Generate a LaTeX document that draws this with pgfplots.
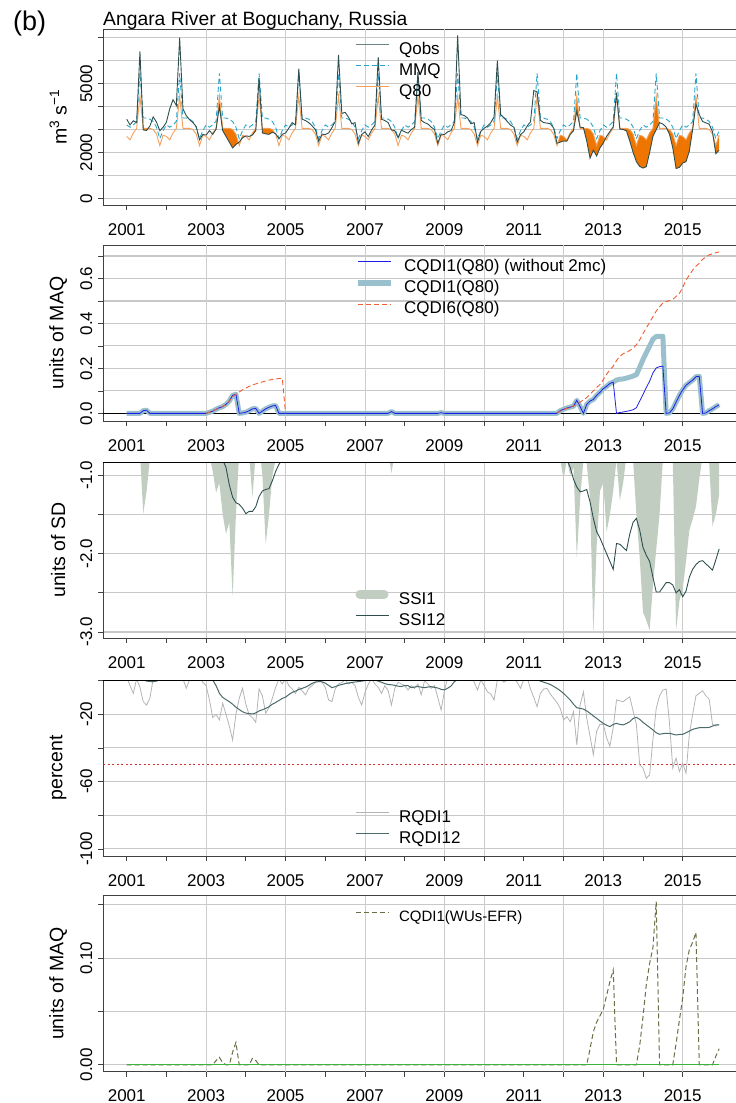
\documentclass[border=0pt]{standalone}
\usepackage{fontspec}
\setmainfont{Liberation Sans}
\usepackage{pgfplots}
\pgfplotsset{compat=1.18}
\usepackage{pgfplotstable}
\usetikzlibrary{intersections}

\definecolor{qobscol}{RGB}{47,79,79}
\definecolor{mmqcol}{RGB}{40,165,205}
\definecolor{q80col}{RGB}{245,160,90}
\definecolor{deficit}{RGB}{238,118,0}
\definecolor{cqdithin}{RGB}{30,30,235}
\definecolor{cqdithick}{RGB}{154,192,205}
\definecolor{cqdisix}{RGB}{240,95,50}
\definecolor{ssione}{RGB}{193,205,193}
\definecolor{ssitwelve}{RGB}{47,79,79}
\definecolor{rqdione}{RGB}{180,180,180}
\definecolor{rqditwelve}{RGB}{75,105,105}
\definecolor{thresh}{RGB}{205,50,50}
\definecolor{wuscol}{RGB}{110,110,70}
\definecolor{zerogreen}{RGB}{60,180,60}
\definecolor{gridcol}{RGB}{200,200,200}

\newcommand{\lab}{\fontsize{17}{20}\selectfont}
\newcommand{\biglab}{\fontsize{19.5}{22}\selectfont}
\newcommand{\smalllab}{\fontsize{15}{18}\selectfont}

% fill the region of path #2 that lies inside path #1 (both named paths)
\makeatletter
\newcommand{\clipfillnamed}[3]{%
  \begin{pgfscope}%
    \expandafter\let\expandafter\my@clippath\csname tikz@intersect@path@name@#1\endcsname
    \pgfsyssoftpath@setcurrentpath\my@clippath
    \pgfusepath{clip}%
    \expandafter\let\expandafter\my@fillpath\csname tikz@intersect@path@name@#2\endcsname
    \pgfsyssoftpath@setcurrentpath\my@fillpath
    \pgfsetfillcolor{#3}%
    \pgfusepath{fill}%
  \end{pgfscope}}
\makeatother

% monthly discharge: observed, mean monthly (MMQ) and Q80 climatology
\pgfplotstableread{
yr mo qobs mmq q80
2001 1 3450 3200 2700
2001 2 3200 3100 2550
2001 3 3380 3200 2850
2001 4 3300 3350 3050
2001 5 6400 5450 4450
2001 6 2980 3500 3050
2001 7 2960 3500 3050
2001 8 3150 3450 3050
2001 9 3550 3350 3000
2001 10 3320 3100 2800
2001 11 2950 2600 2300
2001 12 3100 2950 2750
2002 1 3320 3200 2700
2002 2 3900 3100 2550
2002 3 4300 3200 2850
2002 4 4050 3350 3050
2002 5 7000 5450 4450
2002 6 3900 3500 3050
2002 7 3600 3500 3050
2002 8 3430 3450 3050
2002 9 3300 3350 3000
2002 10 3130 3100 2800
2002 11 2550 2600 2300
2002 12 2780 2950 2750
2003 1 2760 3200 2700
2003 2 2950 3100 2550
2003 3 2790 3200 2850
2003 4 3010 3350 3050
2003 5 4000 5450 4450
2003 6 2950 3500 3050
2003 7 2700 3500 3050
2003 8 2450 3450 3050
2003 9 2200 3350 3000
2003 10 2350 3100 2800
2003 11 2450 2600 2300
2003 12 2640 2950 2750
2004 1 2720 3200 2700
2004 2 2700 3100 2550
2004 3 2760 3200 2850
2004 4 2950 3350 3050
2004 5 5250 5450 4450
2004 6 2850 3500 3050
2004 7 2810 3500 3050
2004 8 2790 3450 3050
2004 9 2880 3350 3000
2004 10 2820 3100 2800
2004 11 2600 2600 2300
2004 12 2790 2950 2750
2005 1 2850 3200 2700
2005 2 3060 3100 2550
2005 3 3300 3200 2850
2005 4 3200 3350 3050
2005 5 5650 5450 4450
2005 6 3450 3500 3050
2005 7 3390 3500 3050
2005 8 3300 3450 3050
2005 9 3160 3350 3000
2005 10 3000 3100 2800
2005 11 2480 2600 2300
2005 12 2800 2950 2750
2006 1 2780 3200 2700
2006 2 2850 3100 2550
2006 3 3080 3200 2850
2006 4 3350 3350 3050
2006 5 6250 5450 4450
2006 6 3700 3500 3050
2006 7 3750 3500 3050
2006 8 3540 3450 3050
2006 9 3250 3350 3000
2006 10 3300 3100 2800
2006 11 2400 2600 2300
2006 12 2780 2950 2750
2007 1 2900 3200 2700
2007 2 2690 3100 2550
2007 3 2980 3200 2850
2007 4 3200 3350 3050
2007 5 6150 5450 4450
2007 6 3450 3500 3050
2007 7 3390 3500 3050
2007 8 3300 3450 3050
2007 9 2980 3350 3000
2007 10 2950 3100 2800
2007 11 2650 2600 2300
2007 12 2970 2950 2750
2008 1 2900 3200 2700
2008 2 2840 3100 2550
2008 3 3000 3200 2850
2008 4 3100 3350 3050
2008 5 5500 5450 4450
2008 6 3400 3500 3050
2008 7 3300 3500 3050
2008 8 3240 3450 3050
2008 9 3100 3350 3000
2008 10 3000 3100 2800
2008 11 2400 2600 2300
2008 12 2800 2950 2750
2009 1 2780 3200 2700
2009 2 2900 3100 2550
2009 3 2950 3200 2850
2009 4 3300 3350 3050
2009 5 7100 5450 4450
2009 6 3650 3500 3050
2009 7 3610 3500 3050
2009 8 3500 3450 3050
2009 9 3250 3350 3000
2009 10 3300 3100 2800
2009 11 2450 2600 2300
2009 12 2920 2950 2750
2010 1 3050 3200 2700
2010 2 3150 3100 2550
2010 3 3300 3200 2850
2010 4 3550 3350 3050
2010 5 6000 5450 4450
2010 6 3650 3500 3050
2010 7 3510 3500 3050
2010 8 3350 3450 3050
2010 9 3190 3350 3000
2010 10 3100 3100 2800
2010 11 2450 2600 2300
2010 12 2780 2950 2750
2011 1 2900 3200 2700
2011 2 3150 3100 2550
2011 3 3340 3200 2850
2011 4 4700 3350 3050
2011 5 4640 5450 4450
2011 6 3400 3500 3050
2011 7 3300 3500 3050
2011 8 3280 3450 3050
2011 9 3250 3350 3000
2011 10 3070 3100 2800
2011 11 2400 2600 2300
2011 12 2450 2950 2750
2012 1 2500 3200 2700
2012 2 2490 3100 2550
2012 3 2780 3200 2850
2012 4 2950 3350 3050
2012 5 3800 5450 4450
2012 6 3100 3500 3050
2012 7 3080 3500 3050
2012 8 2500 3450 3050
2012 9 1750 3350 3000
2012 10 2100 3100 2800
2012 11 1850 2600 2300
2012 12 2200 2950 2750
2013 1 2410 3200 2700
2013 2 2700 3100 2550
2013 3 2910 3200 2850
2013 4 3120 3350 3050
2013 5 4600 5450 4450
2013 6 3020 3500 3050
2013 7 3000 3500 3050
2013 8 2940 3450 3050
2013 9 2500 3350 3000
2013 10 2010 3100 2800
2013 11 1600 2600 2300
2013 12 1390 2950 2750
2014 1 1320 3200 2700
2014 2 1380 3100 2550
2014 3 2000 3200 2850
2014 4 2700 3350 3050
2014 5 2990 5450 4450
2014 6 3300 3500 3050
2014 7 3240 3500 3050
2014 8 3100 3450 3050
2014 9 2800 3350 3000
2014 10 2200 3100 2800
2014 11 1300 2600 2300
2014 12 1350 2950 2750
2015 1 1540 3200 2700
2015 2 1600 3100 2550
2015 3 2060 3200 2850
2015 4 3000 3350 3050
2015 5 4100 5450 4450
2015 6 3650 3500 3050
2015 7 3350 3500 3050
2015 8 3290 3450 3050
2015 9 3230 3350 3000
2015 10 2900 3100 2800
2015 11 1950 2600 2300
2015 12 2100 2950 2750
}\flowtable

% monthly relative deficit index RQDI1 (percent)
\pgfplotstableread{
yr mo r
2001 1 2
2001 2 -3
2001 3 -7.6
2001 4 1
2001 5 -4
2001 6 -12.5
2001 7 -14.5
2001 8 -10.5
2001 9 1
2001 10 2
2001 11 1
2001 12 2
2002 1 2
2002 2 3
2002 3 1
2002 4 2
2002 5 3
2002 6 1
2002 7 -4.6
2002 8 0.5
2002 9 2
2002 10 1
2002 11 2
2002 12 -1
2003 1 -3
2003 2 -11.5
2003 3 -22
2003 4 -20
2003 5 -23.4
2003 6 -13.5
2003 7 -20
2003 8 -27
2003 9 -35.3
2003 10 -20
2003 11 -10.5
2003 12 -4.6
2004 1 -14
2004 2 -20.4
2004 3 -22
2004 4 -24.8
2004 5 -5
2004 6 -9
2004 7 -19.4
2004 8 -16
2004 9 -10.5
2004 10 -4
2004 11 1
2004 12 -2
2005 1 1
2005 2 -3
2005 3 -5
2005 4 -7.6
2005 5 -4
2005 6 -6
2005 7 -8.5
2005 8 -4.6
2005 9 -3
2005 10 -1
2005 11 1
2005 12 -1
2006 1 -4
2006 2 -11.5
2006 3 -12.5
2006 4 -5
2006 5 -2
2006 6 -1
2006 7 0.5
2006 8 -2
2006 9 -1
2006 10 -3
2006 11 -10
2006 12 -14.5
2007 1 -7
2007 2 -2
2007 3 1
2007 4 -2
2007 5 -4
2007 6 -7.6
2007 7 -3
2007 8 -6
2007 9 -14.5
2007 10 -4.6
2007 11 -1
2007 12 -2
2008 1 -3
2008 2 -5.6
2008 3 -3
2008 4 -4.6
2008 5 -2
2008 6 -8.5
2008 7 0
2008 8 -2
2008 9 -4.6
2008 10 -3
2008 11 -10
2008 12 -17.5
2009 1 -6
2009 2 2
2009 3 1
2009 4 3
2009 5 2
2009 6 1
2009 7 3
2009 8 2
2009 9 3
2009 10 -1
2009 11 -5.6
2009 12 0.5
2010 1 -3
2010 2 -6.6
2010 3 -8
2010 4 -11.5
2010 5 0.5
2010 6 1
2010 7 -1
2010 8 0.5
2010 9 1.5
2010 10 1
2010 11 -1
2010 12 -4.6
2011 1 1
2011 2 2
2011 3 -5
2011 4 -10
2011 5 -15.5
2011 6 -7.6
2011 7 -5
2011 8 -4.6
2011 9 -8
2011 10 -10.5
2011 11 -13
2011 12 -16.5
2012 1 -23.4
2012 2 -21.4
2012 3 -24.4
2012 4 -18.5
2012 5 -38.2
2012 6 -14.5
2012 7 -6.6
2012 8 -22.4
2012 9 -33
2012 10 -44
2012 11 -30
2012 12 -26
2013 1 -26
2013 2 -34
2013 3 -39
2013 4 -28
2013 5 -11.5
2013 6 -12
2013 7 -12.5
2013 8 -11
2013 9 -9.6
2013 10 -18
2013 11 -26
2013 12 -50
2014 1 -52
2014 2 -58
2014 3 -56
2014 4 -35
2014 5 -16.5
2014 6 -9
2014 7 -5.6
2014 8 -5
2014 9 -25
2014 10 -52
2014 11 -46
2014 12 -54
2015 1 -49
2015 2 -55
2015 3 -32
2015 4 -20
2015 5 -9
2015 6 -7.6
2015 7 -6
2015 8 -9
2015 9 -11
2015 10 -26
2015 11 -27
2015 12 -26
}\rqdtable

\pgfplotsset{
  table/monthly/.style={x expr=\thisrow{yr}+(\thisrow{mo}-1)/12},
  panel/.style={
    scale only axis, width=639.8pt, height=176pt, anchor=north west,
    xmin=2000.403, xmax=2016.513,
    xtick={2001,...,2015},
    xticklabels={2001,,2003,,2005,,2007,,2009,,2011,,2013,,2015},
    tick align=outside, tick pos=left, major tick length=5pt,
    every tick/.style={black!75, line width=0.7pt},
    axis line style={black!75, line width=0.8pt},
    ymajorgrids, major grid style={gridcol, line width=1.1pt},
    extra x ticks={2003,2005,2007,2009,2010,2012,2013,2015},
    extra x tick labels={},
    extra x tick style={xmajorgrids=true, major tick length=0pt,
      major grid style={black!20, line width=0.8pt}},
    tick label style={font=\lab},
    xticklabel style={anchor=north, inner sep=0pt},
    xticklabel shift=13pt,
    yticklabel style={rotate=90, anchor=south, inner sep=0pt},
    yticklabel shift=5.5pt,
    ylabel style={font=\biglab, at={(axis description cs:-0.07,0.5)}, anchor=center},
    legend style={draw=none, fill=none, font=\lab, inner sep=0pt, outer sep=0pt,
      row sep=4.5pt, column sep=0pt,
      nodes={inner sep=0pt, text height=12pt, text depth=4.5pt}},
    legend cell align=left,
    legend image code/.code={\draw[##1] (0pt,6pt) -- (33pt,6pt); \path (43pt,6pt);},
  },
}

\begin{document}
\begin{tikzpicture}

\node[anchor=base west, inner sep=0pt, font=\fontsize{27}{30}\selectfont] at (13pt,-30pt) {(b)};
\node[anchor=base west, inner sep=0pt, font=\fontsize{19.3}{22}\selectfont] at (103pt,-25pt) {Angara River at Boguchany, Russia};

% ---- discharge ----
\begin{axis}[panel, at={(103pt,-29pt)},
  ymin=-290, ymax=7380, ytick={0,1000,...,7000},
  yticklabels={0,,2000,,,5000,,},
  ylabel={m\textsuperscript{3} s\textsuperscript{−1}},
  legend style={at={(0.394,0.926)}, anchor=north west}]
% region above the observed flow and region below the Q80 threshold
\addplot[draw=none, name path=obsup, forget plot] table[monthly, y=qobs] {\flowtable}
  -- (axis cs:2015.917,9000) -- (axis cs:2001,9000) -- cycle;
\addplot[draw=none, name path=lowdown, forget plot] table[monthly, y=q80] {\flowtable}
  -- (axis cs:2015.917,-1000) -- (axis cs:2001,-1000) -- cycle;
% deficit: below Q80 and above Qobs
\pgfplotsextra{\clipfillnamed{obsup}{lowdown}{deficit}}
\addplot[q80col, line width=0.9pt, forget plot] table[monthly, y=q80] {\flowtable};
\addplot[mmqcol, line width=0.9pt, dash pattern=on 5pt off 3pt, forget plot] table[monthly, y=mmq] {\flowtable};
\addplot[qobscol, line width=0.9pt, forget plot] table[monthly, y=qobs] {\flowtable};
\addlegendimage{draw=qobscol!70, line width=0.9pt}\addlegendentry{Qobs}
\addlegendimage{draw=mmqcol, line width=1pt, dash pattern=on 5pt off 3pt}\addlegendentry{MMQ}
\addlegendimage{draw=q80col, line width=0.9pt}\addlegendentry{Q80}
\end{axis}

% ---- cumulated deficit, Q80 threshold ----
\begin{axis}[panel, at={(103pt,-245pt)},
  ymin=-0.034, ymax=0.749, ytick={0,0.1,...,0.7},
  yticklabels={0.0,,0.2,,0.4,,0.6,},
  ylabel={units of MAQ},
  legend style={at={(0.394,0.92)}, anchor=north west}]
\addplot[black, line width=0.8pt, forget plot] coordinates {(2000.403,0) (2016.513,0)};
\addplot[cqdithick, line width=5pt, line join=round, forget plot] coordinates {
(2001.0,0) (2001.333,0) (2001.417,0.012) (2001.5,0.014) (2001.583,0) (2003.0,0)
(2003.083,0.005) (2003.167,0.01) (2003.25,0.018) (2003.333,0.025) (2003.417,0.03)
(2003.5,0.04) (2003.583,0.055) (2003.667,0.08) (2003.75,0.085) (2003.833,0)
(2003.917,0.002) (2004.0,0.005) (2004.083,0.012) (2004.167,0.02) (2004.25,0.022)
(2004.333,0) (2004.417,0.01) (2004.5,0.02) (2004.583,0.027) (2004.667,0.033)
(2004.75,0.035) (2004.833,0) (2007.583,0) (2007.667,0.008) (2007.75,0)
(2008.833,0) (2008.917,0.003) (2009.0,0) (2011.833,0) (2011.917,0.012)
(2012.0,0.018) (2012.083,0.024) (2012.167,0.028) (2012.25,0.032) (2012.333,0.058)
(2012.417,0.03) (2012.5,0) (2012.583,0.04) (2012.667,0.055) (2012.75,0.062)
(2012.833,0.08) (2012.917,0.094) (2013.0,0.11) (2013.083,0.12) (2013.167,0.133)
(2013.25,0.139) (2013.333,0.148) (2013.417,0.152) (2013.5,0.153) (2013.583,0.157)
(2013.667,0.161) (2013.75,0.166) (2013.833,0.172) (2013.917,0.205) (2014.0,0.24)
(2014.083,0.27) (2014.167,0.3) (2014.25,0.33) (2014.333,0.342) (2014.417,0.343)
(2014.5,0.343) (2014.583,0) (2014.667,0.002) (2014.75,0.02) (2014.833,0.05)
(2014.917,0.08) (2015.0,0.105) (2015.083,0.125) (2015.167,0.137) (2015.25,0.148)
(2015.333,0.163) (2015.417,0.165) (2015.5,0) (2015.583,0.002) (2015.667,0.012)
(2015.75,0.02) (2015.833,0.03) (2015.917,0.038)};
\addplot[cqdithin, line width=0.8pt, forget plot] coordinates {
(2001.0,0) (2001.333,0) (2001.417,0.012) (2001.5,0.014) (2001.583,0) (2003.0,0)
(2003.083,0.005) (2003.167,0.01) (2003.25,0.018) (2003.333,0.025) (2003.417,0.03)
(2003.5,0.04) (2003.583,0.055) (2003.667,0.08) (2003.75,0.085) (2003.833,0)
(2003.917,0.002) (2004.0,0.005) (2004.083,0.012) (2004.167,0.02) (2004.25,0.022)
(2004.333,0) (2004.417,0.01) (2004.5,0.02) (2004.583,0.027) (2004.667,0.033)
(2004.75,0.035) (2004.833,0) (2007.583,0) (2007.667,0.008) (2007.75,0)
(2008.833,0) (2008.917,0.003) (2009.0,0) (2011.833,0) (2011.917,0.012)
(2012.0,0.018) (2012.083,0.024) (2012.167,0.028) (2012.25,0.032) (2012.333,0.058)
(2012.417,0.03) (2012.5,0) (2012.583,0.04) (2012.667,0.055) (2012.75,0.062)
(2012.833,0.08) (2012.917,0.094) (2013.0,0.11) (2013.083,0.12) (2013.167,0.133)
(2013.25,0.139) (2013.333,0) (2013.417,0.004) (2013.5,0.006) (2013.583,0.009)
(2013.667,0.012) (2013.75,0.016) (2013.833,0.025) (2013.917,0.055) (2014.0,0.084)
(2014.083,0.115) (2014.167,0.143) (2014.25,0.18) (2014.333,0.202) (2014.417,0.208)
(2014.5,0.21) (2014.583,0) (2014.667,0.002) (2014.75,0.02) (2014.833,0.05)
(2014.917,0.08) (2015.0,0.105) (2015.083,0.125) (2015.167,0.137) (2015.25,0.148)
(2015.333,0.163) (2015.417,0.165) (2015.5,0) (2015.583,0.002) (2015.667,0.012)
(2015.75,0.02) (2015.833,0.03) (2015.917,0.038)};
\addplot[cqdisix, line width=0.9pt, dash pattern=on 5pt off 3pt, forget plot] coordinates {
(2003.0,0) (2003.083,0.005) (2003.167,0.01) (2003.25,0.018) (2003.333,0.025)
(2003.417,0.03) (2003.5,0.04) (2003.583,0.055) (2003.667,0.075) (2003.75,0.085)
(2003.833,0.095) (2003.917,0.105) (2004.0,0.113) (2004.083,0.12) (2004.167,0.126)
(2004.25,0.131) (2004.333,0.136) (2004.417,0.14) (2004.5,0.144) (2004.583,0.148)
(2004.667,0.151) (2004.75,0.153) (2004.833,0.155) (2004.917,0.157) (2005.0,0)};
\addplot[cqdisix, line width=0.9pt, dash pattern=on 5pt off 3pt, forget plot] coordinates {
(2011.833,0) (2011.917,0.01) (2012.0,0.017) (2012.083,0.022) (2012.167,0.027)
(2012.25,0.033) (2012.333,0.04) (2012.417,0.05) (2012.5,0.06) (2012.583,0.07)
(2012.667,0.085) (2012.75,0.1) (2012.833,0.115) (2012.917,0.128) (2013.0,0.15)
(2013.083,0.173) (2013.167,0.195) (2013.25,0.21) (2013.333,0.235) (2013.417,0.254)
(2013.5,0.265) (2013.583,0.271) (2013.667,0.28) (2013.75,0.29) (2013.833,0.305)
(2013.917,0.327) (2014.0,0.355) (2014.083,0.38) (2014.167,0.405) (2014.25,0.43)
(2014.333,0.455) (2014.417,0.475) (2014.5,0.49) (2014.583,0.497) (2014.667,0.502)
(2014.75,0.507) (2014.833,0.52) (2014.917,0.534) (2015.0,0.56) (2015.083,0.593)
(2015.167,0.615) (2015.25,0.637) (2015.333,0.655) (2015.417,0.667) (2015.5,0.685)
(2015.583,0.696) (2015.667,0.705) (2015.75,0.71) (2015.833,0.715) (2015.917,0.718)};
\addlegendimage{draw=cqdithin, line width=1pt}\addlegendentry{CQDI1(Q80) (without 2mc)}
\addlegendimage{draw=cqdithick, line width=6pt}\addlegendentry{CQDI1(Q80)}
\addlegendimage{draw=cqdisix, line width=0.9pt, dash pattern=on 5pt off 3pt}\addlegendentry{CQDI6(Q80)}
\end{axis}

% ---- standardized streamflow index ----
\begin{axis}[panel, at={(103pt,-462pt)},
  ymin=-3.077, ymax=-0.83, ytick={-3,-2.5,...,-1},
  yticklabels={-3.0,,-2.0,,-1.0},
  ylabel={units of SD},
  legend style={at={(0.394,0.048)}, anchor=south west}]
\addplot[fill=ssione, draw=none, forget plot] coordinates {
(2001.0,0) (2001.25,-0.5) (2001.333,-0.7) (2001.417,-1.49) (2001.5,-1.2)
(2001.583,-0.8) (2001.667,-0.5) (2002.917,-0.5) (2003.0,-0.6) (2003.083,-0.75)
(2003.167,-0.95) (2003.25,-1.22) (2003.333,-1.1) (2003.417,-1.5) (2003.5,-1.75)
(2003.583,-1.6) (2003.667,-2.55) (2003.75,-1.5) (2003.833,-0.7) (2003.917,-0.6)
(2004.0,-0.7) (2004.083,-0.75) (2004.167,-1.28) (2004.25,-0.7) (2004.333,-0.6)
(2004.417,-1.0) (2004.5,-1.88) (2004.583,-1.5) (2004.667,-1.0) (2004.75,-0.8)
(2004.833,-0.5) (2007.5,-0.5) (2007.583,-0.7) (2007.667,-0.97) (2007.75,-0.7)
(2007.833,-0.5) (2011.75,-0.5) (2011.833,-0.6) (2011.917,-0.8) (2012.0,-1.05)
(2012.083,-0.8) (2012.167,-1.0) (2012.25,-0.9) (2012.333,-2.05) (2012.417,-1.3)
(2012.5,-0.8) (2012.583,-0.85) (2012.667,-1.3) (2012.75,-3.02) (2012.833,-1.9)
(2012.917,-1.2) (2013.0,-1.1) (2013.083,-1.72) (2013.167,-1.5) (2013.25,-1.2)
(2013.333,-0.8) (2013.417,-1.32) (2013.5,-1.1) (2013.583,-0.75) (2013.667,-0.7)
(2013.75,-0.8) (2013.833,-1.5) (2013.917,-2.05) (2014.0,-2.75) (2014.083,-2.85)
(2014.167,-2.98) (2014.25,-2.4) (2014.333,-1.95) (2014.417,-1.5) (2014.5,-0.8)
(2014.583,-0.7) (2014.667,-0.75) (2014.75,-0.8) (2014.833,-2.98) (2014.917,-2.6)
(2015.0,-2.45) (2015.083,-2.1) (2015.167,-1.7) (2015.25,-1.56) (2015.333,-1.4)
(2015.417,-1.05) (2015.5,-0.75) (2015.583,-0.6) (2015.667,-0.85) (2015.75,-1.65)
(2015.833,-1.5) (2015.917,-1.25) (2015.917,0)} -- cycle;
\addplot[ssitwelve, line width=0.9pt, forget plot] coordinates {
(2003.417,-0.8) (2003.5,-0.9) (2003.583,-1.12) (2003.667,-1.28) (2003.75,-1.35)
(2003.833,-1.37) (2003.917,-1.42) (2004.0,-1.49) (2004.083,-1.46) (2004.167,-1.46)
(2004.25,-1.4) (2004.333,-1.27) (2004.417,-1.2) (2004.5,-1.18) (2004.583,-1.17)
(2004.667,-1.07) (2004.75,-0.95) (2004.833,-0.86) (2004.917,-0.8)};
\addplot[ssitwelve, line width=0.9pt, forget plot] coordinates {
(2012.0,-0.7) (2012.083,-0.8) (2012.167,-0.9) (2012.25,-1.05) (2012.333,-1.15)
(2012.417,-1.21) (2012.5,-1.2) (2012.583,-1.18) (2012.667,-1.34) (2012.75,-1.55)
(2012.833,-1.72) (2012.917,-1.8) (2013.0,-1.9) (2013.083,-2.0) (2013.167,-2.1)
(2013.25,-2.2) (2013.333,-1.87) (2013.417,-1.88) (2013.5,-1.92) (2013.583,-1.96)
(2013.667,-1.75) (2013.75,-1.6) (2013.833,-1.55) (2013.917,-1.7) (2014.0,-1.92)
(2014.083,-2.02) (2014.167,-2.1) (2014.25,-2.3) (2014.333,-2.49) (2014.417,-2.49)
(2014.5,-2.43) (2014.583,-2.37) (2014.667,-2.37) (2014.75,-2.4) (2014.833,-2.5)
(2014.917,-2.46) (2015.0,-2.55) (2015.083,-2.48) (2015.167,-2.3) (2015.25,-2.2)
(2015.333,-2.14) (2015.417,-2.1) (2015.5,-2.09) (2015.583,-2.13) (2015.667,-2.17)
(2015.75,-2.21) (2015.833,-2.08) (2015.917,-1.94)};
\draw[black, line width=1.4pt] (rel axis cs:0,1) -- (rel axis cs:1,1);
\addlegendimage{legend image code/.code={\draw[ssione, line width=9pt, line cap=round] (4.5pt,6pt) -- (28.5pt,6pt); \path (43pt,6pt);}}
\addlegendentry{SSI1}
\addlegendimage{draw=ssitwelve, line width=0.9pt}\addlegendentry{SSI12}
\end{axis}

% ---- relative deficit ----
\begin{axis}[panel, at={(103pt,-680pt)},
  ymin=-104.2, ymax=0.36, ytick={-100,-80,...,0},
  yticklabels={-100,,-60,,-20,},
  ylabel={percent},
  legend style={at={(0.394,0.048)}, anchor=south west}]
\addplot[thresh, line width=1pt, dash pattern=on 2pt off 2.5pt, forget plot] coordinates {(2000.403,-50) (2016.513,-50)};
\addplot[rqdione, line width=0.8pt] table[monthly, y=r] {\rqdtable};
\addlegendentry{RQDI1}
\addplot[rqditwelve, line width=1pt] coordinates {
(2001.0,1) (2001.417,0.5) (2001.5,-0.3) (2001.583,-0.5) (2001.667,-0.6) (2001.75,-0.3)
(2001.833,0.5) (2003.0,1) (2003.167,0.3) (2003.25,-3) (2003.333,-7.5) (2003.417,-10)
(2003.5,-11.3) (2003.583,-12.5) (2003.667,-14) (2003.75,-15.8) (2003.833,-17.2)
(2003.917,-18.5) (2004.0,-19.3) (2004.083,-19.6) (2004.167,-19.8) (2004.25,-19.2)
(2004.333,-18) (2004.417,-17.3) (2004.5,-16.5) (2004.583,-15.5) (2004.667,-14)
(2004.75,-13) (2004.833,-11.8) (2004.917,-10.6) (2005.0,-9.8) (2005.083,-8.3)
(2005.167,-7) (2005.25,-6.2) (2005.333,-5.3) (2005.417,-4.6) (2005.5,-3.9)
(2005.583,-2.9) (2005.667,-1.6) (2005.75,-0.9) (2005.833,-0.6) (2005.917,-0.7)
(2006.0,-1.5) (2006.083,-2.8) (2006.167,-4.2) (2006.25,-3.6) (2006.333,-2.8)
(2006.417,-2.3) (2006.5,-1.8) (2006.583,-1.4) (2006.667,-1.1) (2006.75,-0.8)
(2006.833,-0.6) (2006.917,-0.3) (2007.0,0) (2007.083,0.2) (2007.167,0.4)
(2007.25,0.2) (2007.333,-0.3) (2007.417,-1) (2007.5,-1.8) (2007.583,-2.3)
(2007.667,-2.5) (2007.75,-2.8) (2007.833,-3.3) (2007.917,-3.5) (2008.0,-2.9)
(2008.083,-3) (2008.167,-4.2) (2008.25,-3.8) (2008.333,-3.5) (2008.417,-3.9)
(2008.5,-4.2) (2008.583,-3.8) (2008.667,-3.6) (2008.75,-4) (2008.833,-4.4)
(2008.917,-5.2) (2009.0,-5.5) (2009.083,-4.5) (2009.167,-3.2) (2009.25,-0.6)
(2009.333,0.5) (2011.333,0.5) (2011.417,-0.3) (2011.5,-0.9) (2011.583,-1.6)
(2011.667,-2.3) (2011.75,-3.4) (2011.833,-4.6) (2011.917,-6) (2012.0,-7.6)
(2012.083,-9.5) (2012.167,-11.5) (2012.25,-14) (2012.333,-16.1) (2012.417,-16.5)
(2012.5,-16.9) (2012.583,-18) (2012.667,-19.4) (2012.75,-21) (2012.833,-22.4)
(2012.917,-24) (2013.0,-25.4) (2013.083,-26.5) (2013.167,-27.3) (2013.25,-26)
(2013.333,-25.4) (2013.417,-26) (2013.5,-26.3) (2013.583,-25.5) (2013.667,-24.4)
(2013.75,-22.5) (2013.833,-21.8) (2013.917,-23) (2014.0,-24.8) (2014.083,-26.3)
(2014.167,-27.8) (2014.25,-29.3) (2014.333,-31) (2014.417,-31.9) (2014.5,-31.5)
(2014.583,-31.3) (2014.667,-31.3) (2014.75,-31.8) (2014.833,-32.3) (2014.917,-32)
(2015.0,-31.9) (2015.083,-31) (2015.167,-30) (2015.25,-29) (2015.333,-28.4)
(2015.417,-28) (2015.5,-27.9) (2015.583,-27.9) (2015.667,-27.8) (2015.75,-27)
(2015.833,-26.3) (2015.917,-26.3)};
\addlegendentry{RQDI12}
\addplot[black, line width=1.2pt, forget plot] coordinates {(2000.403,0) (2016.513,0)};
\end{axis}

% ---- cumulated deficit, water use / environmental flow threshold ----
\begin{axis}[panel, at={(103pt,-895.5pt)},
  ymin=-0.0063, ymax=0.1587, ytick={0,0.05,0.1,0.15},
  yticklabels={0.00,,0.10,},
  ylabel={units of MAQ},
  legend style={at={(0.394,0.918)}, anchor=north west, font=\smalllab}]
\addplot[wuscol, line width=1pt, dash pattern=on 5pt off 3pt] coordinates {
(2001.0,0) (2003.167,0) (2003.25,0.004) (2003.333,0.007) (2003.417,0.002) (2003.5,0)
(2003.583,0) (2003.667,0.012) (2003.75,0.021) (2003.833,0) (2004.083,0)
(2004.167,0.006) (2004.25,0.004) (2004.333,0) (2012.583,0) (2012.667,0.015)
(2012.75,0.031) (2012.833,0.04) (2012.917,0.046) (2013.0,0.052) (2013.083,0.065)
(2013.167,0.078) (2013.25,0.089) (2013.333,0) (2013.833,0) (2013.917,0.018)
(2014.0,0.045) (2014.083,0.075) (2014.167,0.095) (2014.25,0.11) (2014.333,0.153)
(2014.417,0) (2014.75,0) (2014.833,0.02) (2014.917,0.042) (2015.0,0.063)
(2015.083,0.092) (2015.167,0.108) (2015.25,0.115) (2015.333,0.124) (2015.417,0)
(2015.75,0) (2015.833,0.008) (2015.917,0.015)};
\addlegendentry{CQDI1(WUs-EFR)}
\addplot[zerogreen, line width=1pt, forget plot] coordinates {(2001.0,0) (2015.917,0)};
\end{axis}

\pgfresetboundingbox
\path[use as bounding box] (0pt,0pt) rectangle (736pt,-1103pt);
\end{tikzpicture}
\end{document}
